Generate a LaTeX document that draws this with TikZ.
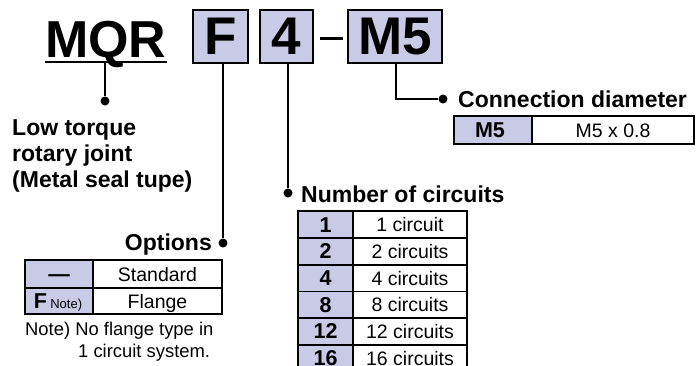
\documentclass[tikz,border=0pt]{standalone}
\usepackage{fontspec}
\setmainfont{Liberation Sans}
\definecolor{lav}{RGB}{201,202,230}
\begin{document}
\begin{tikzpicture}[x=1pt,y=-1pt,
  conn/.style={line width=2pt},
  dotc/.style={circle,fill=black,inner sep=0pt,minimum size=9pt},
  codebox/.style={draw,line width=2pt,fill=lav,inner sep=0pt,minimum height=53pt,
     font=\fontsize{53}{53}\selectfont\bfseries},
  lbl/.style={inner sep=0pt,font=\fontsize{23}{26}\selectfont\bfseries},
  cell/.style={inner sep=0pt,anchor=base,font=\fontsize{19.5}{20}\selectfont},
  bcell/.style={inner sep=0pt,anchor=base,font=\fontsize{21.5}{22}\selectfont\bfseries},
  note/.style={inner sep=0pt,anchor=base west,font=\fontsize{18.4}{20}\selectfont},
  outer/.style={line width=2.4pt},
  inner/.style={line width=1.6pt},
]
\clip (0,0) rectangle (696,365);
% model code
\node[inner sep=0pt,anchor=base west,font=\fontsize{52}{52}\selectfont\bfseries] (mqr) at (45,57) {MQR};
\draw[line width=2.6pt] (45,62) coordinate (ulL) -- (167,62) coordinate (ulR);
\node[codebox,minimum width=55pt] (bF) at (220.5,36.5) {F};
\node[codebox,minimum width=53pt] (b4) at (286.5,36.5) {4};
\draw[line width=3pt] (320,38) coordinate (dashL) -- (343,38) coordinate (dashR);
\node[codebox,minimum width=94pt] (bM5) at (395,36.5) {M5};
% dots
\node[dotc] (dLow) at (105,101) {};
\node[dotc] (dOpt) at (223,243) {};
\node[dotc] (dNum) at (288,193) {};
\node[dotc] (dConn) at (443,99) {};
% connectors
\draw[conn] (ulL -| dLow) -- (dLow);
\draw[conn] (bF.south -| dOpt) -- (dOpt);
\draw[conn] (b4.south -| dNum) -- (dNum);
\draw[conn] ([xshift=1pt]bM5.south) |- (dConn);
% labels
\node[lbl,anchor=base west] (low1) at (12,135) {Low torque};
\node[lbl,anchor=base west] (low2) at (12,161) {rotary joint};
\node[lbl,anchor=base west] (low3) at (12,187) {(Metal seal tupe)};
\node[lbl,anchor=base east] (lOpt) at (212,250) {Options};
\node[lbl,anchor=base west] (lNum) at (301,202) {Number of circuits};
\node[lbl,anchor=base west] (lConn) at (458,107) {Connection diameter};
% connection diameter table
\fill[lav] (454,116) rectangle (532,144);
\draw[inner] (532,116) -- (532,144);
\draw[outer] (454,116) rectangle (694,144);
\node[bcell] (tM5a) at (490,137.5) {M5};
\node[cell] (tM5b) at (613,137) {M5 x 0.8};
% options table
\fill[lav] (25,260) rectangle (93,314);
\draw[inner] (93,260) -- (93,314);
\draw[inner] (25,288) -- (222,288);
\draw[outer] (25,260) rectangle (222,314);
\node[bcell] (tO1a) at (59,281) {—};
\node[cell] (tO1b) at (157.5,281) {Standard};
\node[inner sep=0pt,anchor=base] (tO2a) at (58,308.5) {{\fontsize{21.5}{22}\selectfont\bfseries F}\,\,{\fontsize{13}{13}\selectfont Note)}};
\node[cell] (tO2b) at (157.5,308) {Flange};
\node[note] (n1) at (25,335) {Note) No flange type in};
\node[note] (n2) at (78,357) {1 circuit system.};
% circuits table
\fill[lav] (298,211) rectangle (353,380);
\draw[inner] (353,211) -- (353,380);
\foreach \yy in {238,264.7,291.3,318,344.7} \draw[inner] (298,\yy) -- (467,\yy);
\draw[outer] (298,380) -- (298,211) -- (467,211) -- (467,380);
\node[bcell] (c1a) at (325.5,232) {1};
\node[cell] (c1b) at (410,231.5) {1 circuit};
\node[bcell] (c2a) at (325.5,258.8) {2};
\node[cell] (c2b) at (410,258.3) {2 circuits};
\node[bcell] (c3a) at (325.5,285.5) {4};
\node[cell] (c3b) at (410,285) {4 circuits};
\node[bcell] (c4a) at (325.5,312.1) {8};
\node[cell] (c4b) at (410,311.6) {8 circuits};
\node[bcell] (c5a) at (325.5,338.8) {12};
\node[cell] (c5b) at (410,338.3) {12 circuits};
\node[bcell] (c6a) at (325.5,365) {16};
\node[cell] (c6b) at (410,365) {16 circuits};
\end{tikzpicture}
\end{document}
